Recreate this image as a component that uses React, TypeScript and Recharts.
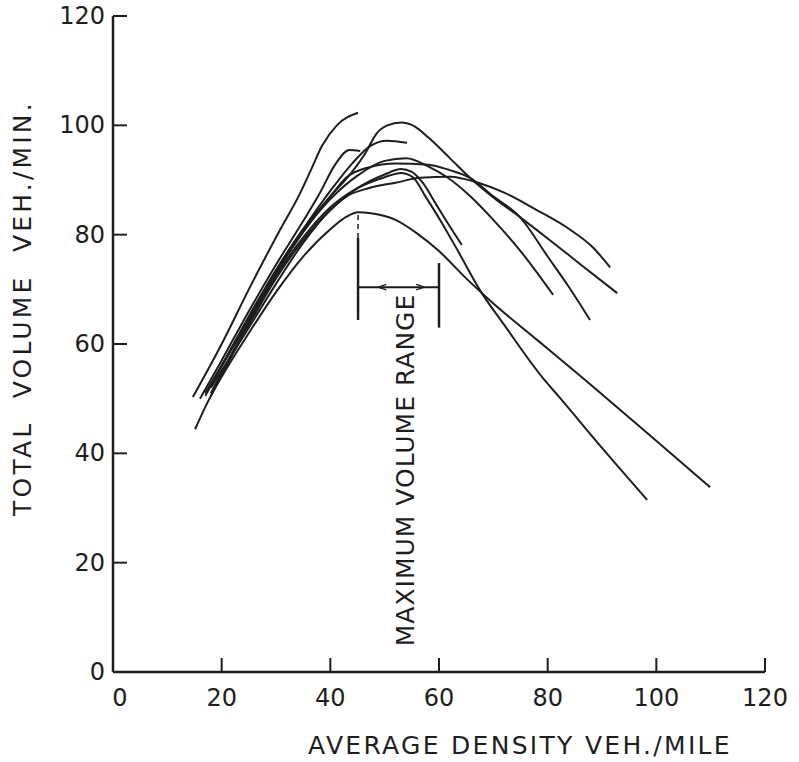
import React from 'react';
import { LineChart, Line, XAxis, YAxis, ReferenceLine } from 'recharts';

type P = [number, number];

const xTicks = [0, 20, 40, 60, 80, 100, 120];
const yTicks = [0, 20, 40, 60, 80, 100, 120];

const curveA: P[] = [[14.7, 50.3], [20, 60], [25, 70], [30.7, 80.8], [34.4, 87.5], [36.5, 92], [38.5, 96.3], [41.2, 100], [45.1, 102.3]];
const curveB: P[] = [[17, 51], [20, 56], [25, 65], [30, 73.5], [35, 81], [40, 87], [44, 91.5], [46.5, 95], [48.5, 98.5], [50.5, 100], [53, 100.5], [55.5, 99.8], [58, 97.8], [62, 94], [65.7, 90.4], [70, 86.8], [74.9, 83.2], [80, 79.3], [86, 74.6], [92.8, 69.3]];
const curveC: P[] = [[17, 50.5], [25, 65], [30, 73.5], [35, 81], [40, 88], [44, 93], [47.3, 96.2], [50.4, 97.2], [54.1, 96.8]];
const curveD: P[] = [[16, 50], [20, 57], [25, 66], [30, 74.5], [35, 82.5], [38, 87.5], [41, 93], [43.5, 95.5], [45.5, 95.3]];
const curveE: P[] = [[17, 51], [25, 64.5], [30, 73], [35, 80.5], [40, 86.5], [45, 90.8], [50, 93.5], [54, 94], [58, 92.5], [61.5, 90.5], [66, 86.8], [70, 82.7], [75, 77], [81, 69]];
const curveF: P[] = [[18, 52], [25, 63], [30, 71], [35, 78.5], [40, 84.5], [43, 87], [47, 88.5], [52, 89.5], [56.5, 90.4], [62, 90.6], [67.5, 89.4], [72, 87.7], [78, 84.5], [84, 81], [88.3, 77.7], [91.5, 74]];
const curveG: P[] = [[18, 52.5], [25, 64.5], [30, 73], [35, 80.5], [40, 87], [43, 90.5], [47, 92.3], [52, 93], [58, 92.8], [62, 91.8], [65.7, 90.4], [70, 87], [74.9, 83.2], [80, 76], [84, 70.3], [87.8, 64.4]];
const curveH: P[] = [[18, 50.5], [25, 63.5], [30, 72], [35, 79], [40, 84.5], [45, 88.5], [50, 91], [53, 92], [55, 91.5], [57, 89.5], [59.5, 85.5], [62, 81.5], [64.2, 78.1]];
const curveI: P[] = [[18, 51], [25, 64], [30, 72.5], [35, 79.5], [40, 85], [45, 88.5], [50, 90.5], [53, 91.3], [55.2, 90.5], [57.5, 87], [60.2, 82.7], [63.5, 77], [67.5, 69.9], [72, 63.5], [79.1, 53.8], [82.3, 50.1], [90, 41], [98.3, 31.5]];
const curveJ: P[] = [[15.1, 44.4], [17.5, 49.5], [20, 54], [25, 62], [30, 69.5], [35, 76], [40, 81], [43, 83.3], [45.1, 84.1], [47.5, 83.9], [52, 82.7], [56, 80.2], [60, 77], [65, 72], [69.9, 67.5], [78, 60.8], [86.9, 53.4], [98, 44], [109.9, 33.8]];

const curves: P[][] = [curveA, curveB, curveC, curveD, curveE, curveF, curveG, curveH, curveI, curveJ];

// "maximum volume range" bracket (data units)
const rangeLeft = 45.1;
const rangeRight = 60;
const rangeBarY = 70.4;
const leftBar: [number, number] = [64.4, 79.4];
const leftDashTop = 84;
const rightBar: [number, number] = [63, 74.8];

const FONT = '"DejaVu Sans", sans-serif';
const INK = '#1e1e1e';

const toData = (c: P[]) => c.map(([x, y]) => ({ x, y }));

const YTick = (props: any) => {
  const { x, y, payload } = props;
  return (
    <g>
      <line x1={x + 8} x2={x + 22} y1={y} y2={y} stroke={INK} strokeWidth={2} />
      <text x={x} y={y} textAnchor="end" dominantBaseline="central" fontFamily={FONT} fontSize={24} fill={INK}>
        {payload.value}
      </text>
    </g>
  );
};

const XTick = (props: any) => {
  const { x, y, payload } = props;
  const shift = payload.value === 0 ? 7 : 0;
  return (
    <g>
      <line x1={x} x2={x} y1={y} y2={y - 14} stroke={INK} strokeWidth={2} />
      <text x={x + shift} y={y + 17} dy="0.71em" textAnchor="middle" fontFamily={FONT} fontSize={24} fill={INK}>
        {payload.value}
      </text>
    </g>
  );
};

const W = 799;
const H = 762;

export default function App() {
  return (
    <div style={{ position: 'relative', width: W, height: H, background: '#fff', overflow: 'hidden' }}>
      <style>{'html,body{margin:0;padding:0;overflow:hidden;}'}</style>
      <LineChart width={W} height={H} margin={{ top: 16, right: 34, left: 0, bottom: 0 }}>
        <XAxis
          type="number"
          dataKey="x"
          domain={[0, 120]}
          ticks={xTicks}
          height={90}
          tickSize={0}
          tickMargin={0}
          tick={(p: any) => <XTick {...p} />}
          axisLine={{ stroke: INK, strokeWidth: 2.5 }}
          tickLine={false}
          interval={0}
        />
        <YAxis
          type="number"
          dataKey="y"
          domain={[0, 120]}
          ticks={yTicks}
          width={113}
          tickSize={0}
          tickMargin={8}
          tick={(p: any) => <YTick {...p} />}
          axisLine={{ stroke: INK, strokeWidth: 2.5 }}
          tickLine={false}
          interval={0}
        />
        {curves.map((c, i) => (
          <Line
            key={i}
            data={toData(c)}
            dataKey="y"
            type="monotone"
            stroke={INK}
            strokeWidth={2}
            dot={false}
            isAnimationActive={false}
          />
        ))}
        <ReferenceLine segment={[{ x: rangeLeft, y: leftBar[0] }, { x: rangeLeft, y: leftBar[1] }]} stroke={INK} strokeWidth={2.5} />
        <ReferenceLine segment={[{ x: rangeLeft, y: leftBar[1] }, { x: rangeLeft, y: leftDashTop }]} stroke={INK} strokeWidth={1.5} strokeDasharray="5 4" />
        <ReferenceLine segment={[{ x: rangeRight, y: rightBar[0] }, { x: rangeRight, y: rightBar[1] }]} stroke={INK} strokeWidth={2.5} />
        <ReferenceLine segment={[{ x: rangeLeft, y: rangeBarY }, { x: rangeRight, y: rangeBarY }]} stroke={INK} strokeWidth={2} />
        <ReferenceLine segment={[{ x: 48.8, y: rangeBarY }, { x: 50.3, y: rangeBarY + 0.5 }]} stroke={INK} strokeWidth={1.5} />
        <ReferenceLine segment={[{ x: 48.8, y: rangeBarY }, { x: 50.3, y: rangeBarY - 0.5 }]} stroke={INK} strokeWidth={1.5} />
        <ReferenceLine segment={[{ x: 57.3, y: rangeBarY }, { x: 55.8, y: rangeBarY + 0.5 }]} stroke={INK} strokeWidth={1.5} />
        <ReferenceLine segment={[{ x: 57.3, y: rangeBarY }, { x: 55.8, y: rangeBarY - 0.5 }]} stroke={INK} strokeWidth={1.5} />
      </LineChart>
      <svg width={W} height={H} style={{ position: 'absolute', left: 0, top: 0, pointerEvents: 'none' }}>
        <text x={520} y={745} textAnchor="middle" dominantBaseline="central" fontFamily={FONT} fontSize={25} letterSpacing={2.3} fill={INK}>
          AVERAGE DENSITY VEH./MILE
        </text>
        <text x={22} y={308} textAnchor="middle" dominantBaseline="central" fontFamily={FONT} fontSize={25} letterSpacing={3.2} fill={INK} transform="rotate(-90 22 308)" style={{ whiteSpace: 'pre' }}>
          {'TOTAL  VOLUME  VEH./MIN.'}
        </text>
        <text x={405} y={470} textAnchor="middle" dominantBaseline="central" fontFamily={FONT} fontSize={25} letterSpacing={1} fill={INK} transform="rotate(-90 405 470)">
          MAXIMUM VOLUME RANGE
        </text>
      </svg>
    </div>
  );
}
